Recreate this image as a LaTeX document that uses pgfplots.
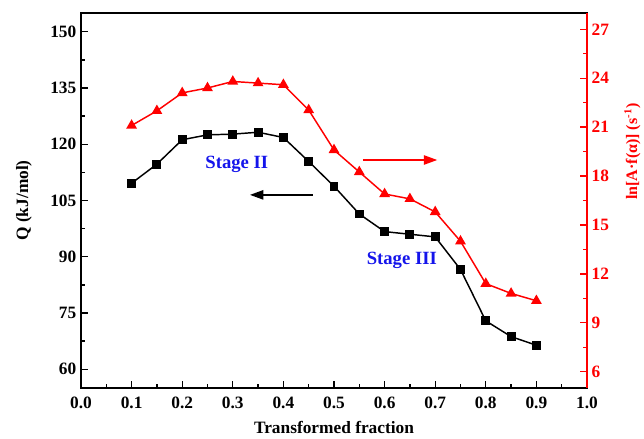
\documentclass[border=0pt]{standalone}
\usepackage{pgfplots}
\pgfplotsset{compat=1.18}
\usepackage{fontspec}
\setmainfont{Liberation Serif}
\usetikzlibrary{arrows.meta}
\definecolor{myred}{RGB}{255,0,0}
\definecolor{myblue}{RGB}{20,20,235}
\begin{document}
\begin{tikzpicture}
\pgfplotsset{
  every axis/.append style={
    scale only axis, width=379.5pt, height=281.25pt,
    xmin=0, xmax=1,
    /pgf/number format/assume math mode=true,
    tick label style={font=\bfseries\fontsize{13}{15}\selectfont},
    label style={font=\bfseries\fontsize{13}{15}\selectfont},
    major tick length=5pt, minor tick length=3pt,
    every tick/.style={line width=1pt},
  }
}
\begin{axis}[
  axis line style={line width=1.1pt},
  ymin=55, ymax=155,
  ytick={60,75,...,150},
  xtick={0,0.1,...,1.0},
  xticklabels={0.0,0.1,0.2,0.3,0.4,0.5,0.6,0.7,0.8,0.9,1.0},
  xticklabel style={yshift=-3.5pt},
  minor x tick num=1, minor y tick num=1,
  tick pos=left,
  xlabel={Transformed fraction},
  ylabel={Q (kJ/mol)},
  xlabel style={yshift=-2pt},
  ylabel style={yshift=7pt},
]
\addplot[black, line width=1.1pt, mark=square*, mark size=2.8pt, mark options={solid}] coordinates {
(0.10,109.6) (0.15,114.7) (0.20,121.2) (0.25,122.5) (0.30,122.7) (0.35,123.2)
(0.40,121.8) (0.45,115.4) (0.50,108.8) (0.55,101.4) (0.60,96.7) (0.65,96.0)
(0.70,95.3) (0.75,86.6) (0.80,72.9) (0.85,68.7) (0.90,66.4)
};
\node[font=\bfseries\fontsize{14}{16}\selectfont, text=myblue] at (axis cs:0.308,114.5) {Stage II};
\node[font=\bfseries\fontsize{14}{16}\selectfont, text=myblue] at (axis cs:0.634,89.1) {Stage III};
\draw[myred, line width=1.1pt, -{Triangle[length=10pt,width=7pt]}] (axis cs:0.557,115.8) -- (axis cs:0.704,115.8);
\draw[black, line width=1.1pt, -{Triangle[length=10pt,width=7pt]}] (axis cs:0.458,106.5) -- (axis cs:0.334,106.5);
\end{axis}
\begin{axis}[
  hide x axis,
  axis y line*=right,
  ymin=5, ymax=28,
  ytick={6,9,...,27},
  minor y tick num=1,
  y axis line style={myred, line width=1.1pt},
  every tick/.style={myred, line width=1pt},
  yticklabel style={text=myred},
  ylabel={ln[A·f(α)] (s\textsuperscript{-1})},
  ylabel style={font=\bfseries\fontsize{12}{14}\selectfont, text=myred, at={(rel axis cs:1,0.63)}, anchor=north, yshift=-24.5pt},
]
\addplot[myred, line width=1.1pt, mark=triangle*, mark size=3.6pt, mark options={solid}] coordinates {
(0.10,21.1) (0.15,22.0) (0.20,23.1) (0.25,23.4) (0.30,23.8) (0.35,23.7)
(0.40,23.6) (0.45,22.05) (0.50,19.6) (0.55,18.25) (0.60,16.9) (0.65,16.6)
(0.70,15.8) (0.75,14.0) (0.80,11.4) (0.85,10.8) (0.90,10.35)
};
\end{axis}
\pgfresetboundingbox
\path[use as bounding box] ([shift={(-60.75pt,-38.25pt)}]current axis.south west) rectangle ([shift={(42.75pt,9.75pt)}]current axis.north east);
\end{tikzpicture}
\end{document}
